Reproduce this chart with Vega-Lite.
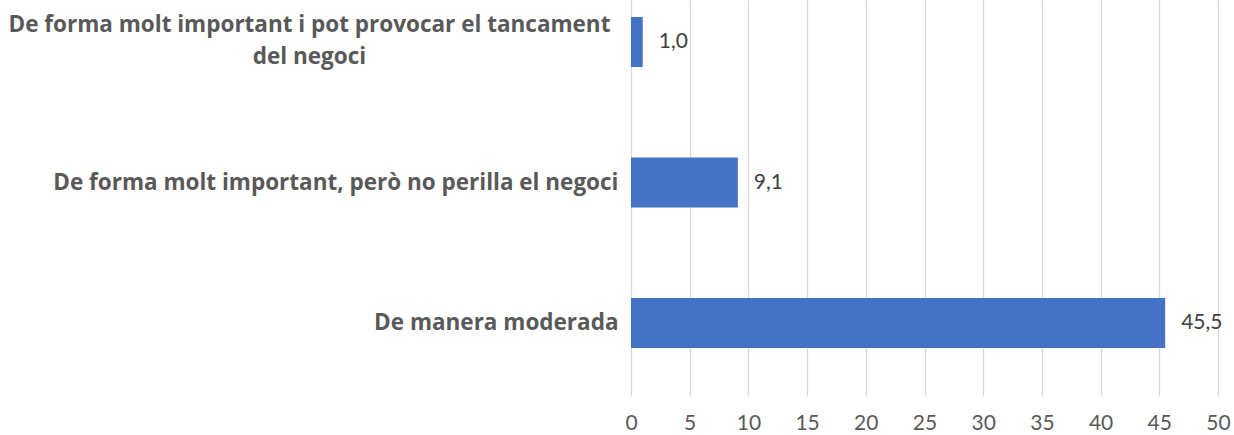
{
  "$schema": "https://vega.github.io/schema/vega-lite/v6.json",
  "autosize": {"type": "none"},
  "width": 587,
  "height": 395,
  "padding": {"left": 631, "top": 0, "right": 16, "bottom": 40},
  "data": {
    "values": [
      {"cat": "De forma molt important i pot provocar el tancament del negoci", "v": 1.0},
      {"cat": "De forma molt important, però no perilla el negoci", "v": 9.1},
      {"cat": "De manera moderada", "v": 45.5}
    ]
  },
  "encoding": {
    "y": {
      "field": "cat",
      "type": "nominal",
      "sort": null,
      "scale": {"paddingInner": 0.644, "paddingOuter": 0.228, "align": 0.266},
      "axis": {
        "title": null,
        "domain": false,
        "ticks": false,
        "grid": false,
        "labelFont": "Open Sans",
        "labelFontWeight": "bold",
        "labelFontSize": 22.5,
        "labelColor": "#595959",
        "labelLimit": 700,
        "labelLineHeight": 32,
        "labelAlign": {"condition": {"test": "indexof(datum.value, 'tancament') >= 0", "value": "center"}, "value": "right"},
        "labelPadding": {"condition": {"test": "indexof(datum.value, 'tancament') >= 0", "value": 322}, "value": 13},
        "labelOffset": {"condition": {"test": "indexof(datum.value, 'tancament') >= 0", "value": -17}, "value": 0},
        "labelExpr": "indexof(datum.value, 'tancament') >= 0 ? ['De forma molt important i pot provocar el tancament', 'del negoci'] : datum.label"
      }
    },
    "x": {
      "field": "v",
      "type": "quantitative",
      "scale": {"domain": [0, 50], "nice": false},
      "axis": {
        "title": null,
        "values": [0, 5, 10, 15, 20, 25, 30, 35, 40, 45, 50],
        "domain": false,
        "ticks": false,
        "grid": true,
        "gridColor": "#d9d9d9",
        "gridWidth": 1.3,
        "labelFont": "Lato",
        "labelFontSize": 21,
        "labelColor": "#595959",
        "labelPadding": 17,
        "labelFlush": false,
        "labelOverlap": false
      }
    }
  },
  "layer": [
    {"mark": {"type": "bar", "color": "#4472C4"}},
    {
      "mark": {
        "type": "text",
        "align": "left",
        "dx": 16,
        "font": "Lato",
        "fontSize": 21,
        "color": "#404040",
        "text": {"expr": "replace(format(datum.v, '.1f'), '.', ',')"}
      }
    }
  ],
  "config": {"view": {"stroke": null}}
}
